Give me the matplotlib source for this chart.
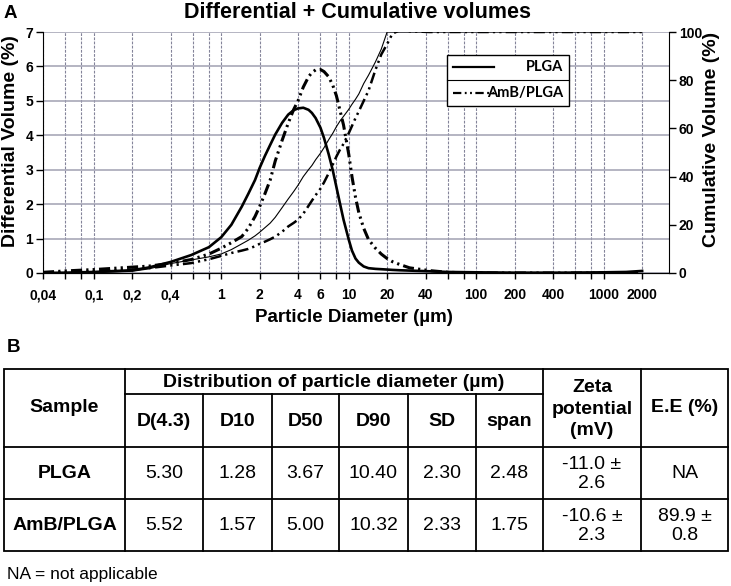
import numpy as np
import matplotlib
matplotlib.use('Agg')
import matplotlib.pyplot as plt
from matplotlib.patches import Rectangle

plt.rcParams['font.family'] = ['Liberation Sans', 'DejaVu Sans']
plt.rcParams['lines.scale_dashes'] = False

# ---- panel A data ----
diam = [0.04, 0.06, 0.1, 0.2, 0.27, 0.4, 0.58, 0.8, 1, 1.2, 1.45, 1.63, 1.84, 2,
        2.2, 2.42, 2.65, 3, 3.35, 3.7, 4, 4.4, 4.84, 5.14, 5.5, 6, 6.4, 6.96, 7.5, 8, 8.5, 9.1,
        10, 10.6, 11.3, 12, 13.1, 14.3, 16.2, 18, 20, 22, 25, 30, 43, 60, 100, 200, 500,
        1000, 1500, 2000]

# differential volume (%)
plga_diff = [0.0, 0.01, 0.03, 0.08, 0.16, 0.32, 0.52, 0.75, 1.04, 1.4, 1.93, 2.3, 2.7, 3.05,
             3.4, 3.72, 4.02, 4.36, 4.6, 4.73, 4.78, 4.8, 4.74, 4.65, 4.5, 4.22, 3.92, 3.45, 2.98,
             2.5, 2.05, 1.55, 0.97, 0.65, 0.42, 0.3, 0.19, 0.14, 0.12, 0.11, 0.1, 0.09, 0.08, 0.07,
             0.05, 0.03, 0.02, 0.01, 0.01, 0.02, 0.03, 0.06]
amb_diff = [0.02, 0.06, 0.1, 0.17, 0.2, 0.28, 0.39, 0.55, 0.72, 0.88, 1.06, 1.3, 1.64, 1.93,
            2.3, 2.7, 3.25, 3.85, 4.35, 4.75, 5.0, 5.4, 5.7, 5.82, 5.9, 5.91, 5.85, 5.7, 5.45,
            5.15, 4.75, 4.3, 3.45, 2.8, 2.2, 1.75, 1.3, 0.97, 0.72, 0.55, 0.42, 0.33, 0.25, 0.15,
            0.07, 0.02, 0.0, 0.0, 0.0, 0.0, 0.01, 0.01]

# cumulative volume (%)
plga_cum = [0, 0, 0.1, 0.7, 1.7, 3.9, 5.4, 6.7, 7.9, 9.7, 12.1, 13.6, 15.4, 16.9,
            18.8, 20.7, 23.1, 27.1, 30.7, 33.8, 36.4, 40.0, 42.9, 44.6, 47.0, 49.7, 52.0, 55.3, 58.0,
            60.7, 62.9, 65.0, 67.9, 70.0, 72.1, 74.3, 78.6, 82.1, 87.6, 92.9, 100, 100, 100, 100,
            100, 100, 100, 100, 100, 100, 100, 100]
amb_cum = [0, 0.3, 0.7, 1.4, 2.0, 3.1, 4.1, 5.7, 7.1, 8.3, 9.3, 10.0, 11.1, 12.1,
           13.0, 14.0, 15.1, 17.1, 19.3, 20.8, 22.1, 24.6, 27.9, 30.0, 32.3, 35.0, 37.6, 41.4, 45.0,
           48.3, 51.0, 53.6, 58.0, 61.0, 64.3, 67.1, 71.4, 75.7, 84.3, 90.7, 95.0, 99.3, 100.7, 100.3,
           100, 100, 100, 100, 100, 100, 100, 100]

x_ticks = [0.04, 0.1, 0.2, 0.4, 1, 2, 4, 6, 10, 20, 40, 100, 200, 400, 1000, 2000]
x_tick_labels = ['0,04', '0,1', '0,2', '0,4', '1', '2', '4', '6', '10', '20', '40',
                 '100', '200', '400', '1000', '2000']
grid_x = [0.04, 0.06, 0.08, 0.1, 0.2, 0.4, 0.6, 0.8, 1, 2, 4, 6, 8, 10, 20, 40, 60, 80,
          100, 200, 400, 600, 800, 1000, 2000]
left_ticks = [0, 1, 2, 3, 4, 5, 6, 7]
right_ticks = [0, 20, 40, 60, 80, 100]

# ---- panel B data ----
sample_names = ['PLGA', 'AmB/PLGA']
dist_headers = ['D(4.3)', 'D10', 'D50', 'D90', 'SD', 'span']
plga_dist = ['5.30', '1.28', '3.67', '10.40', '2.30', '2.48']
amb_dist = ['5.52', '1.57', '5.00', '10.32', '2.33', '1.75']
zeta_vals = ['-11.0 \u00b1\n2.6', '-10.6 \u00b1\n2.3']
ee_vals = ['NA', '89.9 \u00b1\n0.8']

W, H = 731, 586
fig = plt.figure(figsize=(W / 100, H / 100), dpi=100)

# ---- chart ----
ax_l, ax_r, ax_b, ax_t = 43, 669, 273, 32
ax = fig.add_axes([ax_l / W, 1 - ax_b / H, (ax_r - ax_l) / W, (ax_b - ax_t) / H])
ax.set_xscale('log')
ax.set_xlim(0.04, 10 ** ((669 - 223) / 127))
ax.set_ylim(0, 7)

for g in grid_x:
    ax.axvline(g, color='#84849a', lw=0.8, ls=(0, (2, 1)), zorder=0)
for g in left_ticks:
    ax.axhline(g, color='#a0a0b2', lw=1.1, zorder=0)

amb_dash = (8, 3, 1.6, 3, 1.6, 3)
ax.plot(diam, plga_diff, color='black', lw=1.9, zorder=3)
ax.plot(diam, amb_diff, color='black', lw=2.2, dashes=amb_dash, zorder=3)

ax.set_xticks(grid_x)
ax.set_xticklabels([x_tick_labels[x_ticks.index(g)] if g in x_ticks else '' for g in grid_x])
ax.xaxis.set_minor_locator(matplotlib.ticker.NullLocator())
ax.set_yticks(left_ticks)
ax.tick_params(axis='x', length=4, width=1, pad=7, labelsize=10)
ax.tick_params(axis='y', length=5, width=1, pad=2, labelsize=10)
for lab in ax.get_xticklabels() + ax.get_yticklabels():
    lab.set_fontweight('bold')
ax.spines['top'].set_visible(False)
ax.spines['right'].set_visible(False)

ax2 = ax.twinx()
ax2.set_ylim(0, 100)
ax2.plot(diam, plga_cum, color='black', lw=0.8, zorder=3)
ax2.plot(diam, amb_cum, color='black', lw=1.8, dashes=amb_dash, zorder=3)
ax2.set_yticks(right_ticks)
ax2.tick_params(axis='y', length=5, width=1, pad=2, labelsize=10)
for lab in ax2.get_yticklabels():
    lab.set_fontweight('bold')
ax2.spines['top'].set_visible(False)
ax2.spines['left'].set_visible(False)

# legend box drawn by hand (two rows with divider)
lx0, lx1 = (447 - ax_l) / (ax_r - ax_l), (569 - ax_l) / (ax_r - ax_l)
ly0, ly1, lym = (ax_b - 106) / (ax_b - ax_t), (ax_b - 55) / (ax_b - ax_t), (ax_b - 80) / (ax_b - ax_t)
tr = ax2.transAxes
ax2.add_patch(Rectangle((lx0, ly0), lx1 - lx0, ly1 - ly0, transform=tr, facecolor='white',
                        edgecolor='black', lw=1.0, zorder=5))
ax2.plot([lx0, lx1], [lym, lym], transform=tr, color='black', lw=0.8, zorder=6)
sx0, sx1 = (453 - ax_l) / (ax_r - ax_l), (494 - ax_l) / (ax_r - ax_l)
ax2.plot([sx0, sx1], [(ax_b - 67) / (ax_b - ax_t)] * 2, transform=tr, color='black', lw=1.6, zorder=6)
ax2.plot([sx0, sx1], [(ax_b - 93) / (ax_b - ax_t)] * 2, transform=tr, color='black', lw=1.6,
         dashes=(6, 2.5, 1.3, 2.5, 1.3, 2.5), zorder=6)
tx = (563 - ax_l) / (ax_r - ax_l)
ax2.text(tx, (ax_b - 67) / (ax_b - ax_t), 'PLGA', transform=tr, ha='right', va='center',
         fontsize=10.5, fontweight='bold', family=['Lato', 'DejaVu Sans'], zorder=7)
ax2.text(tx, (ax_b - 93) / (ax_b - ax_t), 'AmB/PLGA', transform=tr, ha='right', va='center',
         fontsize=10.5, fontweight='bold', family=['Lato', 'DejaVu Sans'], zorder=7)

# ---- overlay for all free text and the table ----
ov = fig.add_axes([0, 0, 1, 1], zorder=-5)
ov.set_xlim(0, W)
ov.set_ylim(H, 0)
ov.axis('off')

ov.text(10, 13, 'A', ha='center', va='center', fontsize=13.5, fontweight='bold')
ov.text(358, 12, 'Differential + Cumulative volumes', ha='center', va='center',
        fontsize=15.5, fontweight='bold')
ov.text(354, 318, 'Particle Diameter (\u00b5m)', ha='center', va='center', fontsize=13.5,
        fontweight='bold')
ov.text(11, 141, 'Differential Volume (%)', ha='center', va='center', rotation=90,
        fontsize=14, fontweight='bold')
ov.text(712, 139, 'Cumulative Volume (%)', ha='center', va='center', rotation=90,
        fontsize=14, fontweight='bold')

ov.text(13, 347, 'B', ha='center', va='center', fontsize=13.5, fontweight='bold')
ov.text(7, 575, 'NA = not applicable', ha='left', va='center', fontsize=12.5)

cols = [4, 125, 203, 272, 339, 408, 476, 543, 641, 728]
rows = [369, 394, 447, 499, 551]
lw_t = 1.3
ov.add_patch(Rectangle((cols[0], rows[0]), cols[-1] - cols[0], rows[-1] - rows[0],
                       fill=False, edgecolor='black', lw=lw_t))
for c in cols[1:-1]:
    top = rows[1] if 2 <= cols.index(c) <= 6 else rows[0]
    ov.plot([c, c], [top, rows[-1]], color='black', lw=lw_t)
ov.plot([cols[1], cols[7]], [rows[1], rows[1]], color='black', lw=lw_t)
for r in rows[2:4]:
    ov.plot([cols[0], cols[-1]], [r, r], color='black', lw=lw_t)

def cx(i):
    return (cols[i] + cols[i + 1]) / 2

fs = 14
ov.text(cx(0), (rows[0] + rows[2]) / 2, 'Sample', ha='center', va='center', fontsize=fs,
        fontweight='bold')
ov.text((cols[1] + cols[7]) / 2, (rows[0] + rows[1]) / 2 + 1, 'Distribution of particle diameter (\u00b5m)',
        ha='center', va='center', fontsize=fs, fontweight='bold')
for i, h in enumerate(dist_headers):
    ov.text(cx(i + 1), (rows[1] + rows[2]) / 2 + 1, h, ha='center', va='center', fontsize=fs,
            fontweight='bold')
ov.text(cx(7), (rows[0] + rows[2]) / 2 + 1, 'Zeta\npotential\n(mV)', ha='center', va='center',
        fontsize=fs, fontweight='bold', linespacing=1.35)
ov.text(cx(8), (rows[0] + rows[2]) / 2, 'E.E (%)', ha='center', va='center', fontsize=fs,
        fontweight='bold')

for k, vals in enumerate([plga_dist, amb_dist]):
    yc = (rows[2 + k] + rows[3 + k]) / 2 + 1
    ov.text(cx(0), yc, sample_names[k], ha='center', va='center', fontsize=fs, fontweight='bold')
    for i, v in enumerate(vals):
        ov.text(cx(i + 1), yc, v, ha='center', va='center', fontsize=fs)
    ov.text(cx(7), yc, zeta_vals[k], ha='center', va='center', fontsize=fs, linespacing=1.2)
    ov.text(cx(8), yc, ee_vals[k], ha='center', va='center', fontsize=fs, linespacing=1.2)

fig.savefig('out.png', dpi=100)
